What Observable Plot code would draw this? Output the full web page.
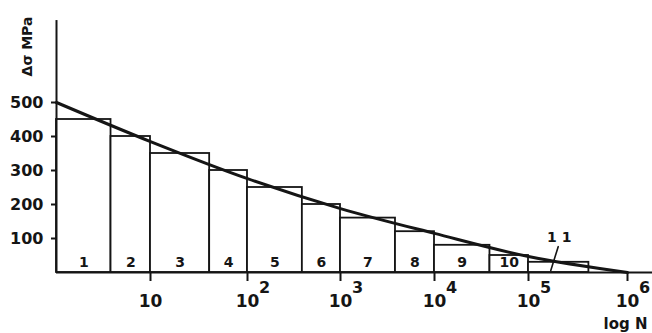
<!DOCTYPE html>
<html>
<head>
<meta charset="utf-8">
<script src="https://cdn.jsdelivr.net/npm/d3@7"></script>
<script src="https://cdn.jsdelivr.net/npm/@observablehq/plot@0.6"></script>
<style>
  html, body { margin: 0; padding: 0; background: #fff; overflow: hidden; }
</style>
</head>
<body>
<div id="chart"></div>
<script>
// Block labels, edges in log10(N), stress ranges (MPa)
const blockLabels = ["1","2","3","4","5","6","7","8","9","10","11"];
const blockStart  = [0, 0.58, 1, 1.61, 2, 2.59, 3, 3.585, 4, 4.59, 5];
const blockEnd    = [0.58, 1, 1.61, 2, 2.59, 3, 3.585, 4, 4.59, 5, 5.61];
const blockStress = [450, 400, 350, 300, 250, 200, 160, 120, 80, 50, 30];

// Smooth spectrum curve: log N vs stress
const curveLogN   = [0, 1, 2, 3, 4, 5, 6];
const curveStress = [500, 385, 276, 188, 115, 47, 0];

// Axis ticks
const yTicks = [100, 200, 300, 400, 500];
const xDecades = [1, 2, 3, 4, 5, 6];
const xExponents = ["", "2", "3", "4", "5", "6"];

// Annotation for block 11 (label and leader)
const leaderLogN = [5.30, 5.225];
const leaderStress = [76, 6];
const label11 = {logN: 5.31, stress: 103, text: "1 1"};

const blocks = blockLabels.map((l, i) => ({label: l, x1: blockStart[i], x2: blockEnd[i], s: blockStress[i]}));
const curve = curveLogN.map((x, i) => ({x, s: curveStress[i]}));
const leader = leaderLogN.map((x, i) => ({x, s: leaderStress[i]}));
const decades = xDecades.map((d, i) => ({d, e: xExponents[i]}));

const ink = "#151515";

const chart = Plot.plot({
  width: 652,
  height: 333,
  marginLeft: 56,
  marginRight: 0,
  marginTop: 0,
  marginBottom: 61,
  style: {fontFamily: "DejaVu Sans", fontWeight: "bold", background: "#fff", color: ink},
  x: {type: "linear", domain: [0, 1, 2, 3, 4, 5, 6], range: [56, 150, 247, 340, 434, 528, 627]},
  y: {domain: [0, 800], range: [272, 0]},
  marks: [
    // blocks
    Plot.rect(blocks, {x1: "x1", x2: "x2", y1: 0, y2: "s", fill: "#fff", stroke: ink, strokeWidth: 1.8}),
    // block numbers 1-10
    Plot.text(blocks.slice(0, 10), {x: d => (d.x1 + d.x2) / 2, y: 0, text: "label", dy: -10, fontSize: 14, fill: ink}),
    // spectrum curve
    Plot.line(curve, {x: "x", y: "s", curve: "monotone-x", stroke: ink, strokeWidth: 3}),
    // block 11 label and leader
    Plot.line(leader, {x: "x", y: "s", stroke: ink, strokeWidth: 1.6}),
    Plot.text([label11], {x: "logN", y: "stress", text: "text", fontSize: 14, fill: ink}),
    // axis lines
    Plot.ruleY([0], {x1: 0, x2: 6.4, stroke: ink, strokeWidth: 2}),
    Plot.ruleX([0], {y1: 0, y2: 741, stroke: ink, strokeWidth: 2}),
    // y axis ticks & labels
    Plot.axisY(yTicks, {tickSize: 5, tickPadding: 8, fontSize: 16, label: null, stroke: ink, strokeWidth: 2, fill: ink}),
    // x axis ticks
    Plot.axisX(xDecades, {tickSize: 9, tickFormat: () => "", label: null, stroke: ink, strokeWidth: 2}),
    // x tick labels "10" with exponents
    Plot.text(decades, {x: "d", frameAnchor: "bottom", lineAnchor: "middle", textAnchor: "middle", text: () => "10", dy: 29, fontSize: 17, fill: ink}),
    Plot.text(decades, {x: "d", frameAnchor: "bottom", lineAnchor: "middle", textAnchor: "middle", text: "e", dx: 17, dy: 15, fontSize: 16, fill: ink}),
    // axis titles
    Plot.text(["\u0394\u03c3 MPa"], {frameAnchor: "top-left", textAnchor: "middle", lineAnchor: "middle", dx: -29, dy: 46, rotate: -90, fontSize: 14, fill: ink}),
    Plot.text(["log N"], {frameAnchor: "bottom-right", textAnchor: "start", lineAnchor: "middle", dx: -49, dy: 52, fontSize: 15, fill: ink})
  ]
});

document.getElementById("chart").appendChild(chart);
</script>
</body>
</html>
